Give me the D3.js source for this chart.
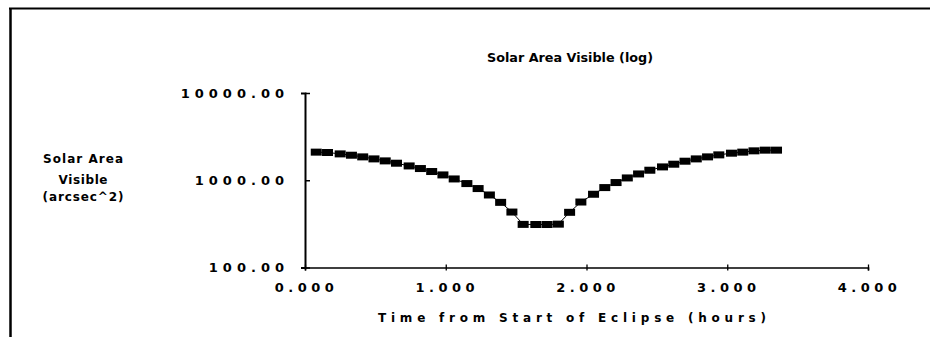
<!DOCTYPE html>
<html>
<head>
<meta charset="utf-8">
<script src="https://cdn.jsdelivr.net/npm/d3@7"></script>
<style>
  body { margin: 0; background: #fff; }
  text { font-family: "DejaVu Sans", sans-serif; font-weight: bold; fill: #000; }
</style>
</head>
<body>
<svg id="chart"></svg>
<script>
// time from start of eclipse (hours) and visible solar area (arcsec^2)
const hours = [0.08, 0.16, 0.25, 0.33, 0.41, 0.49, 0.57, 0.65, 0.74, 0.82,
  0.90, 0.98, 1.06, 1.15, 1.23, 1.31, 1.39, 1.47, 1.55, 1.64,
  1.72, 1.80, 1.88, 1.96, 2.05, 2.13, 2.21, 2.29, 2.37, 2.45,
  2.54, 2.62, 2.70, 2.78, 2.86, 2.94, 3.03, 3.11, 3.19, 3.27, 3.35];
const areaVisible = [2100, 2080, 2005, 1936, 1853, 1757, 1667, 1568, 1459, 1362,
  1259, 1151, 1035, 916, 803, 678, 558, 432, 312, 311,
  311, 314, 429, 563, 691, 824, 941, 1063, 1181, 1303,
  1422, 1527, 1653, 1757, 1853, 1954, 2043, 2100, 2173, 2213, 2213];
const xTicks = [0, 1, 2, 3, 4];
const yTicks = [100, 1000, 10000];
const titleText = "Solar Area Visible (log)";
const xTitle = "Time from Start of Eclipse (hours)";
const yTitle = ["Solar Area", "Visible", "(arcsec^2)"];

const W = 930, H = 337;
const svg = d3.select("#chart").attr("width", W).attr("height", H);

const data = hours.map((h, i) => ({h: h, v: areaVisible[i]}));

const x = d3.scaleLinear().domain([0, 4]).range([305, 868]);
const y = d3.scaleLog().domain([100, 10000]).range([267.5, 93]);

// frame (top and left edges only show)
svg.append("line").attr("x1", 9).attr("x2", W).attr("y1", 8.5).attr("y2", 8.5)
  .attr("stroke", "#000").attr("stroke-width", 2);
svg.append("line").attr("x1", 10.5).attr("x2", 10.5).attr("y1", 8).attr("y2", H)
  .attr("stroke", "#000").attr("stroke-width", 2.5);

// title
svg.append("text")
  .attr("x", 570).attr("y", 62)
  .attr("text-anchor", "middle")
  .style("font-size", "13px")
  .attr("textLength", 166).attr("lengthAdjust", "spacingAndGlyphs")
  .text(titleText);

// x axis
const xAxis = d3.axisBottom(x)
  .tickValues(xTicks)
  .tickFormat(d3.format(".3f"))
  .tickSizeOuter(0)
  .tickSize(3)
  .tickPadding(12);

const gx = svg.append("g")
  .attr("transform", "translate(0," + y(100) + ")")
  .call(xAxis);
gx.select(".domain").attr("stroke-width", 1.6);
gx.selectAll(".tick line").attr("y1", -3).attr("stroke-width", 1.3);
gx.selectAll(".tick text")
  .style("font-size", "13px").style("letter-spacing", "4.5px")
  .attr("font-family", null).attr("dx", 1);

// y axis
const yAxis = d3.axisLeft(y)
  .tickValues(yTicks)
  .tickFormat(d3.format(".2f"))
  .tickSizeOuter(0)
  .tickSize(4)
  .tickPadding(15);

const gy = svg.append("g")
  .attr("transform", "translate(" + x(0) + ",0)")
  .call(yAxis);
gy.select(".domain").attr("stroke-width", 2);
gy.selectAll(".tick line").attr("x2", 5).attr("stroke-width", 1.5);
gy.selectAll(".tick text")
  .style("font-size", "13px").style("letter-spacing", "5px")
  .attr("font-family", null).attr("dx", 3);

// axis titles
svg.append("text")
  .attr("x", 572).attr("y", 322)
  .attr("text-anchor", "middle")
  .style("font-size", "12px")
  .attr("textLength", 388).attr("lengthAdjust", "spacing")
  .text(xTitle);

const yLines = [{t: yTitle[0], y: 163, w: 80}, {t: yTitle[1], y: 184, w: 49}, {t: yTitle[2], y: 201, w: 81}];
svg.selectAll(".ytitle")
  .data(yLines)
  .join("text")
    .attr("class", "ytitle")
    .attr("x", 83)
    .attr("y", d => d.y)
    .attr("text-anchor", "middle")
    .style("font-size", "12px")
    .attr("textLength", d => d.w)
    .attr("lengthAdjust", "spacing")
    .text(d => d.t);

// series: thin line with block markers
const line = d3.line().x(d => x(d.h)).y(d => y(d.v));
svg.append("path")
  .datum(data)
  .attr("fill", "none")
  .attr("stroke", "#000")
  .attr("stroke-width", 1)
  .attr("d", line);

svg.append("g")
  .selectAll("rect")
  .data(data)
  .join("rect")
    .attr("x", d => x(d.h) - 5.5)
    .attr("y", d => y(d.v) - 3.5)
    .attr("width", 11)
    .attr("height", 7)
    .attr("fill", "#000");
</script>
</body>
</html>
